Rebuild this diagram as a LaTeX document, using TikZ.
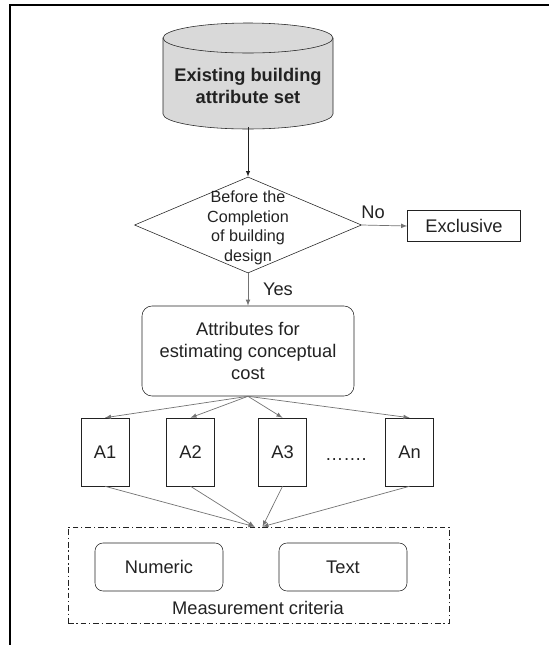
\documentclass[tikz,border=0pt]{standalone}
\usepackage{fontspec}
\setmainfont{Liberation Sans}
\usetikzlibrary{shapes.geometric}
\definecolor{ink}{HTML}{222222}
\definecolor{dbgray}{HTML}{D9D9D9}
\begin{document}
\begin{tikzpicture}[>=latex, text=ink, font=\fontsize{13}{15.4}\selectfont,
  box/.style={draw=ink, rectangle, inner sep=0pt, align=center},
  rbox/.style={box, rounded corners=0.25cm},
  abox/.style={box, minimum width=1.2cm, minimum height=1.7cm},
  thin arrow/.style={->, draw=black!55, line width=0.5pt}]
\useasboundingbox (0,0) rectangle (13.725,-16.125);
\draw[line width=1pt] (0.25,-16.125) |- (13.725,-0.125);

% attribute set drum
\filldraw[draw=ink, fill=dbgray] (4.075,-0.95) -- (4.075,-2.85) arc (180:360:2.125 and 0.375)
  -- (8.325,-0.95) arc (0:180:2.125 and 0.375) -- cycle;
\draw[ink] (4.075,-0.95) arc (180:360:2.125 and 0.375);

\path
(6.2,-2.15)  node[inner sep=0pt, minimum height=2.05cm, align=center,
                  font=\bfseries\fontsize{13}{15.6}\selectfont] (db)
                  {Existing building\\attribute set}
(6.2,-5.625) node[diamond, draw=ink, minimum width=5.675cm, minimum height=2.4cm,
                  inner sep=0pt] (dec) {}
+(0,-0.075)  node[align=center, font=\fontsize{11.5}{13.9}\selectfont] (dect)
                  {Before the\\Completion\\of building\\design}
(11.6,-5.65) node[box, minimum width=2.825cm, minimum height=0.775cm] (ex) {Exclusive}
(6.2,-8.775) node[rbox, minimum width=5.3cm, minimum height=2.25cm] (attr)
                  {Attributes for\\estimating conceptual\\cost}
(2.625,-11.3) node[abox] (a1) {A1}
+(2.1375,0)   node[abox] (a2) {A2}
+(4.4375,0)   node[abox] (a3) {A3}
+(6.025,-0.2) node[anchor=base] (dots) {…….}
+(7.6125,0)   node[abox] (an) {An}
(6.4625,-14.375) node[draw=ink, line width=0.5pt, dash pattern=on 4pt off 2pt on 1pt off 2pt,
                  minimum width=9.525cm, minimum height=2.4cm] (crit) {}
(3.975,-14.175) node[rbox, rounded corners=0.2cm, minimum width=3.2cm, minimum height=1.2cm] (num) {Numeric}
(8.575,-14.175) node[rbox, rounded corners=0.2cm, minimum width=3.2cm, minimum height=1.2cm] (txt) {Text}
(6.45,-15.2)  node (critl) {Measurement criteria};

\coordinate (m1) at ([xshift=-0.1cm]crit.north);
\coordinate (m2) at ([xshift=0.1cm]crit.north);

\draw[->, ink] (db.south)--(dec.north);
\draw[thin arrow] (dec.east)--(ex.west) node[pos=.25, above=1pt, text=ink]{No};
\draw[thin arrow] (dec.south)--(attr.north) node[midway, right=0.25cm, text=ink]{Yes};

\draw[thin arrow] (attr.south)--(a1.north);
\draw[thin arrow] (attr.south)--(a2.north);
\draw[thin arrow] (attr.south)--(a3.north);
\draw[thin arrow] (attr.south)--(an.north);

\draw[thin arrow] (a1.south)--(m1);
\draw[thin arrow] (a2.south)--(m1);
\draw[thin arrow] (a3.south)--(m2);
\draw[thin arrow] (an.south)--(m2);
\end{tikzpicture}
\end{document}
